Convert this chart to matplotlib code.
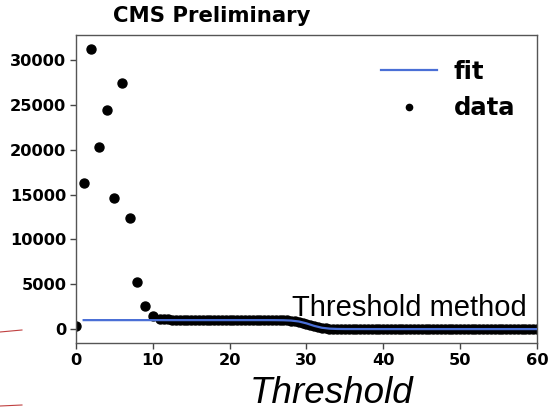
import numpy as np
import matplotlib
matplotlib.use("Agg")
import matplotlib.pyplot as plt
from matplotlib.lines import Line2D

# ---- data ----
early_x = [0, 1, 2, 3, 4, 5, 6, 7, 8, 9, 10]
early_y = [400, 16300, 31200, 20300, 24400, 14650, 27400, 12400, 5200, 2600, 1500]

band_x = list(np.arange(11, 60.01, 0.5))
band_y = [1150, 1100,
          1070, 1060, 1060, 1050, 1050, 1050, 1040, 1040, 1040, 1040,
          1030, 1030, 1030, 1030, 1030, 1020, 1020, 1020, 1020, 1020,
          1010, 1010, 1010, 1010, 1010, 1000, 1000, 1000, 1000, 1000, 1000,
          980, 950, 900, 820, 720, 600, 470, 340, 230, 140, 80, 40, 20,
          10, 5, 0, 0, 0, 0, 0, 0, 0, 0, 0, 0, 0, 0, 0, 0, 0, 0, 0, 0, 0,
          0, 0, 0, 0, 0, 0, 0, 0, 0, 0, 0, 0, 0, 0, 0, 0, 0, 0, 0, 0, 0,
          0, 0, 0, 0, 0, 0, 0, 0, 0, 0, 0, 0]
band_y = band_y[:len(band_x)] + [0] * max(0, len(band_x) - len(band_y))

data_x = early_x + band_x
data_y = early_y + band_y

fit_x = [1, 5, 10, 15, 20, 25, 26, 27, 28, 29, 30, 31, 32, 33, 34, 35, 40, 50, 60]
fit_y = [1000, 1000, 1000, 1000, 1000, 1000, 995, 985, 950, 850, 640, 360, 150, 50, 15, 5, 0, 0, 0]

xticks = [0, 10, 20, 30, 40, 50, 60]
yticks = [0, 5000, 10000, 15000, 20000, 25000, 30000]

# ---- figure ----
fig = plt.figure(figsize=(5.49, 4.16), dpi=100)
ax = fig.add_axes([0.1384, 0.1755, 0.8396, 0.7405])

ax.scatter(data_x, data_y, s=42, color="black", zorder=2, label="data")
ax.plot(fit_x, fit_y, color="#4a6fd6", lw=1.6, zorder=3, label="fit")

ax.set_xlim(0, 60)
ax.set_ylim(-1550, 32800)
ax.set_xticks(xticks)
ax.set_yticks(yticks)
for lab in ax.get_xticklabels() + ax.get_yticklabels():
    lab.set_fontweight("bold")
    lab.set_fontsize(11.7)
ax.tick_params(axis="both", length=4, width=1, color="#444444", pad=3)
for sp in ax.spines.values():
    sp.set_color("#555555")
    sp.set_linewidth(1.0)

ax.set_xlabel("Threshold", fontsize=26.5, style="italic", family="Liberation Sans")
ax.xaxis.set_label_coords(0.555, -0.106)

ax.text(0.08, 1.03, "CMS Preliminary", transform=ax.transAxes, fontsize=15.3,
        fontweight="bold", ha="left", va="bottom")

handles = [Line2D([0], [0], color="#4a6fd6", lw=1.6),
           Line2D([0], [0], marker="o", color="black", ls="none", markersize=4.5)]
ax.legend(handles, ["fit", "data"], loc="upper right", frameon=False,
          prop={"weight": "bold", "size": 17.5}, bbox_to_anchor=(1.0, 0.99),
          handlelength=2.3, handletextpad=0.7, labelspacing=0.5)

ax.text(0.978, 0.115, "Threshold method", transform=ax.transAxes, fontsize=21,
        family="Liberation Sans", ha="right", va="center", zorder=5)

# red slide marks at left margin
fig.add_artist(Line2D([0.0, 0.04], [1 - 332 / 416, 1 - 330 / 416], color="#c04040", lw=0.8))
fig.add_artist(Line2D([0.0, 0.04], [1 - 406 / 416, 1 - 405 / 416], color="#c04040", lw=0.8))

fig.savefig("out.png", dpi=100)
